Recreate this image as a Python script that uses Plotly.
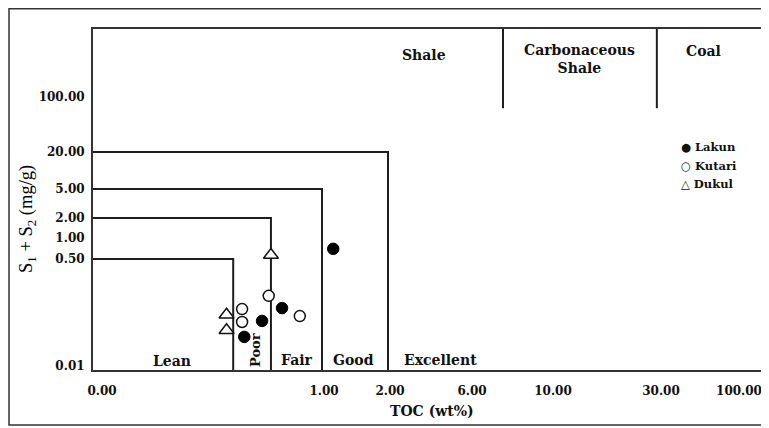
import numpy as np
import plotly.graph_objects as go

# ---------------- data ----------------
lakun_toc = [0.65, 0.73, 0.82, 1.17]
lakun_s1s2 = [0.029, 0.052, 0.083, 0.70]

kutari_toc = [0.64, 0.64, 0.76, 0.90]
kutari_s1s2 = [0.080, 0.050, 0.13, 0.062]

dukul_toc = [0.57, 0.57, 0.77]
dukul_s1s2 = [0.065, 0.037, 0.57]

toc_ticks = [0, 1, 2, 6, 10, 30, 100]
toc_tick_labels = ["0.00", "1.00", "2.00", "6.00", "10.00", "30.00", "100.00"]
s_ticks = [0.01, 0.5, 1, 2, 5, 20, 100]
s_tick_labels = ["0.01", "0.50", "1.00", "2.00", "5.00", "20.00", "100.00"]

# classification boundaries (TOC wt%, S1+S2 mg/g)
lean_toc, lean_s = 0.60, 0.5
poor_toc, poor_s = 0.77, 2
fair_toc, fair_s = 1.0, 5
good_toc, good_s = 2.0, 20
carb_toc = 7.63
coal_toc = 29.6
rock_line_s = 72

# ---------------- piecewise scales of the original chart ----------------
X_ANCHOR = [7, 229, 295, 377, 458, 566, 644]     # axis units for toc_ticks
Y_ANCHOR = [4, 111, 132, 152, 181, 218, 273]     # axis units for s_ticks
X_MAX, Y_MAX = 676, 341


def sx(v):
    return np.interp(np.asarray(v, dtype=float), toc_ticks, X_ANCHOR)


def sy(v):
    return np.interp(np.log10(np.asarray(v, dtype=float)), np.log10(s_ticks), Y_ANCHOR)


LINE = dict(color="#1e1e1e", width=2)
fig = go.Figure()

# class boxes
for t, s in [(lean_toc, lean_s), (poor_toc, poor_s), (fair_toc, fair_s), (good_toc, good_s)]:
    fig.add_trace(go.Scatter(x=[0, sx(t), sx(t)], y=[sy(s), sy(s), 0],
                             mode="lines", line=LINE, hoverinfo="skip", showlegend=False))
for t in [carb_toc, coal_toc]:
    fig.add_trace(go.Scatter(x=[sx(t), sx(t)], y=[Y_MAX, sy(rock_line_s)],
                             mode="lines", line=LINE, hoverinfo="skip", showlegend=False))

# samples
fig.add_trace(go.Scatter(x=sx(dukul_toc), y=sy(dukul_s1s2), mode="markers", name="Dukul",
                         marker=dict(symbol="triangle-up", size=13, color="white",
                                     line=dict(color="#111", width=1.5)), showlegend=False))
fig.add_trace(go.Scatter(x=sx(kutari_toc), y=sy(kutari_s1s2), mode="markers", name="Kutari",
                         marker=dict(symbol="circle", size=11, color="white",
                                     line=dict(color="#111", width=1.5)), showlegend=False))
fig.add_trace(go.Scatter(x=sx(lakun_toc), y=sy(lakun_s1s2), mode="markers", name="Lakun",
                         marker=dict(symbol="circle", size=11.5, color="#000",
                                     line=dict(color="#000", width=1)), showlegend=False))

# page body has an 8 px margin; page pixel coordinates are converted here
OFF = 8
W, H = 769 - OFF, 428 - OFF
L, T, B = 93 - OFF, 29 - OFF, 370 - OFF


def pxx(p):
    return (p - OFF - L) / X_MAX


def pxy(p):
    return (B - (p - OFF)) / Y_MAX


BOLD = dict(family="DejaVu Serif", size=13, color="#111", weight="bold")
anns = []


def lab(text, x, y, size=13, angle=0, xanchor="center", font=None):
    f = dict(BOLD) if font is None else dict(font)
    f["size"] = size
    anns.append(dict(text=text, x=pxx(x), y=pxy(y), xref="paper", yref="paper",
                     showarrow=False, textangle=angle, xanchor=xanchor, yanchor="middle",
                     font=f))


lab("Lean", 172, 361, size=14)
lab("Poor", 255, 350, size=13, angle=-90)
lab("Fair", 297, 360, size=14)
lab("Good", 353, 360, size=14)
lab("Excellent", 440, 360, size=14)
lab("Shale", 424, 55, size=14)
lab("Carbonaceous<br>Shale", 579, 59, size=14)
lab("Coal", 703, 51, size=14)
lab("● Lakun", 679, 147, size=11.5, xanchor="left")
lab("○ Kutari", 679, 166, size=11.5, xanchor="left")
lab("△ Dukul", 679, 184, size=11.5, xanchor="left")
lab("TOC (wt%)", 432, 411, size=14)
lab("S<sub>1</sub> + S<sub>2</sub> (mg/g)", 28, 219, size=18.5, angle=-90,
    font=dict(family="Liberation Serif", color="#000"))

TICKFONT = dict(family="DejaVu Serif", size=12, color="#111", weight="bold")

fig.update_layout(
    width=W, height=H,
    margin=dict(l=L, r=0, t=T, b=H - B),
    paper_bgcolor="white", plot_bgcolor="white",
    annotations=anns,
    shapes=[dict(type="rect", xref="paper", yref="paper",
                 x0=pxx(9), x1=pxx(790), y0=pxy(425), y1=pxy(8.8),
                 line=dict(color="#333", width=1.5))],
    xaxis=dict(range=[0, X_MAX], tickvals=sx(toc_ticks), ticktext=toc_tick_labels,
               showgrid=False, zeroline=False, showline=True, mirror=True,
               linecolor="#333", linewidth=2, ticks="", ticklabelstandoff=9,
               ticklabelshift=2, ticklabeloverflow="allow", automargin=False,
               tickfont=TICKFONT),
    yaxis=dict(range=[0, Y_MAX], tickvals=sy(s_ticks), ticktext=s_tick_labels,
               showgrid=False, zeroline=False, showline=True, mirror=False,
               linecolor="#333", linewidth=2, ticks="", ticklabelstandoff=4,
               automargin=False, tickfont=TICKFONT),
)

fig.write_html("out.html")
